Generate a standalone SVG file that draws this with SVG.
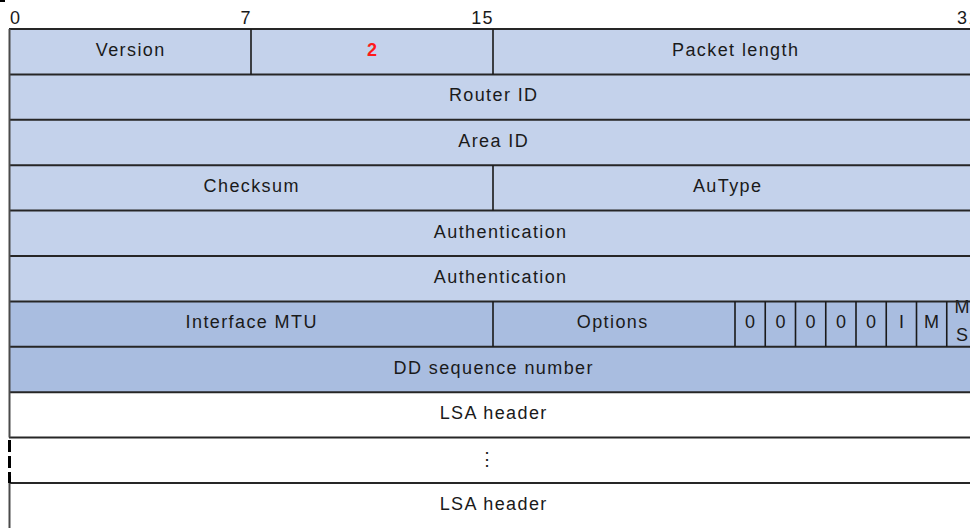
<svg xmlns="http://www.w3.org/2000/svg" width="970" height="528" viewBox="0 0 970 528">
<style>
text{font-family:"Liberation Sans",Arial,sans-serif;font-size:18px;letter-spacing:1.4px;fill:#1a1a1a;text-anchor:middle}
.num{text-anchor:start}
.end{text-anchor:end}
.l1{fill:#C4D2EB}
.l2{fill:#A9BDE0}
.w{fill:#FFFFFF}
.h{stroke:#262626;stroke-width:2;fill:none}
.v{stroke:#1a1a1a;stroke-width:1.6;fill:none}
.red{fill:#FF1A1A;font-weight:bold}
</style>
<rect width="970" height="528" fill="#FFFFFF"/>
<rect x="0" y="0" width="5" height="2" fill="#000"/>
<g id="bit-labels">
<text class="num" x="10" y="24">0</text>
<text class="end" x="252" y="24">7</text>
<text class="end" x="494" y="24">15</text>
<text class="num" x="957" y="24">31</text>
</g>
<g id="row-fills">
<rect class="l1" x="9" y="29" width="961" height="272.4"/>
<rect class="l2" x="9" y="301.4" width="961" height="90.8"/>
</g>
<g id="version"><text x="130.7" y="56">Version</text></g>
<g id="type"><text class="red" x="372.7" y="56">2</text></g>
<g id="packet-length"><text x="735.7" y="56">Packet length</text></g>
<g id="router-id"><text x="493.7" y="101.4">Router ID</text></g>
<g id="area-id"><text x="493.7" y="146.8">Area ID</text></g>
<g id="checksum"><text x="251.7" y="192.2">Checksum</text></g>
<g id="autype"><text x="727.7" y="192.2">AuType</text></g>
<g id="authentication-1"><text x="500.7" y="237.6">Authentication</text></g>
<g id="authentication-2"><text x="500.7" y="283">Authentication</text></g>
<g id="interface-mtu"><text x="251.7" y="328.4">Interface MTU</text></g>
<g id="options"><text x="612.7" y="328.4">Options</text></g>
<g id="option-bits">
<text x="750.8" y="328.4">0</text>
<text x="781.1" y="328.4">0</text>
<text x="811.3" y="328.4">0</text>
<text x="841.6" y="328.4">0</text>
<text x="871.8" y="328.4">0</text>
<text x="902.1" y="328.4">I</text>
<text x="932.3" y="328.4">M</text>
<text x="962.6" y="313">M</text>
<text x="962.6" y="341">S</text>
</g>
<g id="dd-sequence-number"><text x="493.7" y="373.8">DD sequence number</text></g>
<g id="lsa-header-1"><text x="493.7" y="419.2">LSA header</text></g>
<g id="ellipsis"><text x="488" y="464.6">⋮</text></g>
<g id="lsa-header-2"><text x="493.7" y="510">LSA header</text></g>
<g id="connectors">
<path class="h" d="M9 29H970M9 74.4H970M9 119.8H970M9 165.2H970M9 210.6H970M9 256H970M9 301.4H970M9 346.8H970M9 392.2H970M9 437.6H970M9 483H970"/>
<path class="v" d="M251 29V74.4M493 29V74.4M493 165.2V210.6M493 301.4V346.8M735 301.4V346.8M765.25 301.4V346.8M795.5 301.4V346.8M825.75 301.4V346.8M856 301.4V346.8M886.25 301.4V346.8M916.5 301.4V346.8M946.75 301.4V346.8"/>
<path d="M9.5 29V437.6M9.5 483V528" stroke="#4a4a4a" stroke-width="2" fill="none"/>
<path d="M9.5 440V483" stroke="#000" stroke-width="3" stroke-dasharray="12 4" fill="none"/>
</g>
</svg>
